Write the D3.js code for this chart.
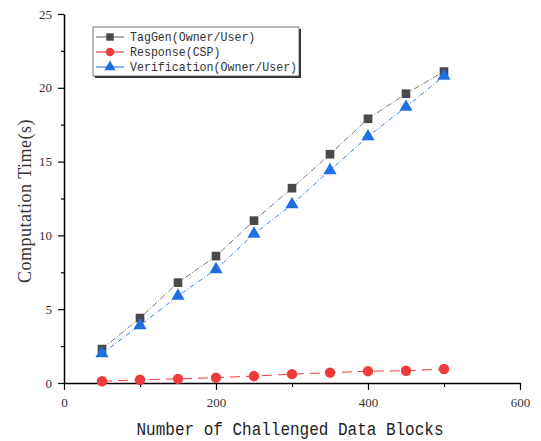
<!DOCTYPE html>
<html><head><meta charset="utf-8">
<script src="https://cdn.jsdelivr.net/npm/d3@7/dist/d3.min.js"></script>
<style>body{margin:0;background:#fff}</style>
</head><body>
<svg id="c" width="541" height="441"></svg>
<script>
const blocks = [50,100,150,200,250,300,350,400,450,500];
const tagGen = [2.3,4.4,6.8,8.6,11.0,13.2,15.5,17.9,19.6,21.1];
const response = [0.12,0.22,0.28,0.36,0.47,0.6,0.7,0.8,0.83,0.95];
const verification = [2.0,3.9,5.9,7.7,10.1,12.1,14.4,16.7,18.7,20.8];
const seriesNames = ["TagGen(Owner/User)","Response(CSP)","Verification(Owner/User)"];
const xTicks = [0,200,400,600];
const yTicks = [0,5,10,15,20,25];

const svg = d3.select("#c");
const x = d3.scaleLinear().domain([0,600]).range([64,520]);
const y = d3.scaleLinear().domain([0,25]).range([383,14]);

// axes
svg.append("g").attr("transform","translate(0,383)")
  .call(d3.axisBottom(x).tickValues(xTicks).tickSize(7).tickSizeOuter(0).tickPadding(8));
svg.append("g").attr("transform","translate(0,383)")
  .call(d3.axisBottom(x).tickValues([100,300,500]).tickSize(4).tickFormat(""))
  .select(".domain").remove();
svg.append("g").attr("transform","translate(64,0)")
  .call(d3.axisLeft(y).tickValues(yTicks).tickSize(6).tickSizeOuter(0).tickPadding(6));
svg.append("g").attr("transform","translate(64,0)")
  .call(d3.axisLeft(y).tickValues([2.5,7.5,12.5,17.5,22.5]).tickSize(3).tickFormat(""))
  .select(".domain").remove();
svg.selectAll(".domain").attr("stroke","#000").attr("stroke-width",1.5);
svg.selectAll(".tick line").attr("stroke","#000").attr("stroke-width",1.2);
svg.selectAll(".tick text").attr("font-family","'Liberation Serif', serif").attr("font-size",13).attr("fill","#333");

// axis titles
svg.append("text").attr("transform","translate(290,435) scale(1,1.2)").attr("text-anchor","middle")
  .attr("font-family","'Liberation Mono', monospace").attr("font-size",16).attr("fill","#222")
  .text("Number of Challenged Data Blocks");
svg.append("text").attr("transform","translate(31,201) rotate(-90)").attr("text-anchor","middle")
  .attr("font-family","'Liberation Serif', serif").attr("font-size",18).attr("letter-spacing",0.5).attr("fill","#333")
  .text("Computation Time(s)");

const series = [
  {name:seriesNames[0], vals:tagGen, color:"#4a4a4a", line:"#777", dash:"6,2,1,2", shape:d3.symbolSquare, size:75},
  {name:seriesNames[1], vals:response, color:"#ee3b3b", line:"#ee3b3b", dash:"10,6", shape:d3.symbolCircle, size:85},
  {name:seriesNames[2], vals:verification, color:"#1f6fe0", line:"#3c85e6", dash:"5,2,1,2", shape:d3.symbolTriangle, size:75}
];

series.forEach(s=>{
  const data = blocks.map((b,i)=>[b,s.vals[i]]);
  svg.append("path").datum(data)
    .attr("d", d3.line().x(d=>x(d[0])).y(d=>y(d[1])))
    .attr("fill","none").attr("stroke",s.line).attr("stroke-width",1).attr("stroke-dasharray",s.dash);
  svg.append("g").selectAll("path").data(data).join("path")
    .attr("transform",d=>`translate(${x(d[0])},${y(d[1])})`)
    .attr("d", d3.symbol().type(s.shape).size(s.size))
    .attr("fill",s.color);
});

// legend
const lg = svg.append("g");
lg.append("rect").attr("x",95).attr("y",29).attr("width",206).attr("height",49).attr("fill","#333");
lg.append("rect").attr("x",93).attr("y",27).attr("width",206).attr("height",49).attr("fill","#fff").attr("stroke","#555").attr("stroke-width",0.8);
series.forEach((s,i)=>{
  const yy = 37 + i*15;
  lg.append("line").attr("x1",96).attr("x2",124).attr("y1",yy).attr("y2",yy).attr("stroke",s.line).attr("stroke-width",1.2);
  lg.append("path").attr("transform",`translate(110,${yy})`).attr("d",d3.symbol().type(s.shape).size(55)).attr("fill",s.color);
  lg.append("text").attr("transform",`translate(130,${yy+4}) scale(1,1.15)`).attr("font-family","'Liberation Mono', monospace")
    .attr("font-size",11.6).attr("fill","#333").text(s.name);
});
</script>
</body></html>
